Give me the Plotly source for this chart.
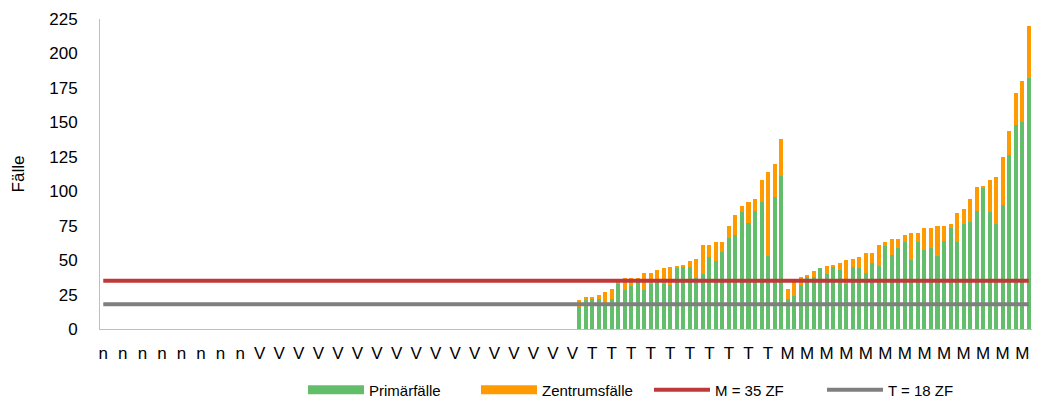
import plotly.graph_objects as go

# ---- data ----
categories = ["n"] * 24 + ["V"] * 49 + ["T"] * 32 + ["M"] * 38

primaer_t = [16, 21, 22, 22, 18, 22, 33, 28, 31, 34, 28, 33, 35, 33, 32, 44, 45,
             45, 37, 40, 52, 49, 56, 66, 68, 85, 77, 86, 92, 53, 96, 111]
zentrum_t = [5, 2, 1, 3, 9, 7, 1, 9, 6, 3, 13, 8, 8, 11, 13, 2, 1,
             4, 14, 21, 9, 14, 7, 9, 15, 4, 15, 8, 16, 61, 24, 27]
primaer_m = [22, 24, 32, 38, 38, 44, 40, 45, 43, 33, 45, 44, 41, 48, 46, 60, 54, 59,
             63, 50, 63, 57, 59, 53, 64, 73, 63, 76, 78, 86, 103, 85, 76, 90,
             126, 148, 150, 182]
zentrum_m = [7, 10, 6, 1, 4, 0, 6, 1, 5, 17, 6, 8, 14, 7, 15, 3, 11, 6,
             5, 20, 7, 16, 14, 22, 11, 3, 21, 11, 16, 17, 1, 23, 34, 35,
             18, 23, 30, 38]
empty_cats = categories.count("n") + categories.count("V")
primaer = [0] * empty_cats + primaer_t + primaer_m
zentrum = [0] * empty_cats + zentrum_t + zentrum_m

M_ZF = 35
T_ZF = 18

x = list(range(len(categories)))
tickvals = x[::3]
ticktext = [categories[i] for i in tickvals]

FONT = "Liberation Sans"
GREEN = "#63BE6B"
ORANGE = "#FF9A00"
RED = "#C0393A"
GRAY = "#7F7F7F"

fig = go.Figure()
fig.add_trace(go.Bar(x=x, y=primaer, name="Primärfälle", legendgroup="p", showlegend=False,
                     marker=dict(color=GREEN, line=dict(width=0))))
fig.add_trace(go.Bar(x=x, y=zentrum, name="Zentrumsfälle", legendgroup="z", showlegend=False,
                     marker=dict(color=ORANGE, line=dict(width=0))))
# legend entries for the bar series (wide swatches like the original)
fig.add_trace(go.Scatter(x=[None], y=[None], mode="lines", name="Primärfälle", legendgroup="p",
                         line=dict(color=GREEN, width=9)))
fig.add_trace(go.Scatter(x=[None], y=[None], mode="lines", name="Zentrumsfälle", legendgroup="z",
                         line=dict(color=ORANGE, width=9)))
fig.add_trace(go.Scatter(x=x, y=[M_ZF] * len(x), mode="lines", name="M = 35 ZF",
                         line=dict(color=RED, width=4)))
fig.add_trace(go.Scatter(x=x, y=[T_ZF] * len(x), mode="lines", name="T = 18 ZF",
                         line=dict(color=GRAY, width=4)))

fig.update_layout(
    width=1042, height=403,
    barmode="stack", bargap=0.38,
    plot_bgcolor="white", paper_bgcolor="white",
    margin=dict(l=100, r=10, t=13, b=74),
    font=dict(family=FONT, size=17, color="#000000"),
    showlegend=True,
    legend=dict(orientation="h", x=303 / 1042, xanchor="left", xref="container",
                y=1 - 390 / 403, yanchor="middle", yref="container",
                font=dict(size=15, family=FONT), itemwidth=56, traceorder="normal",
                entrywidth=102, entrywidthmode="pixels",
                bgcolor="rgba(0,0,0,0)"),
)
fig.update_xaxes(
    range=[-0.5, len(x) - 0.5], tickmode="array", tickvals=tickvals, ticktext=ticktext,
    showgrid=False, zeroline=False, showline=True, linecolor="#BFBFBF", linewidth=1,
    ticks="", tickangle=0, ticklabelstandoff=9, tickfont=dict(size=17),
)
fig.update_yaxes(
    range=[0, 225], tickmode="linear", tick0=0, dtick=25,
    showgrid=False, zeroline=False, showline=True, linecolor="#BFBFBF", linewidth=1,
    ticks="", ticklabelstandoff=18, tickfont=dict(size=17),
    title=dict(text="Fälle", font=dict(size=17), standoff=20),
)

fig.write_html("out.html", config={"displayModeBar": False},
               post_script="document.body.style.margin='0';")
